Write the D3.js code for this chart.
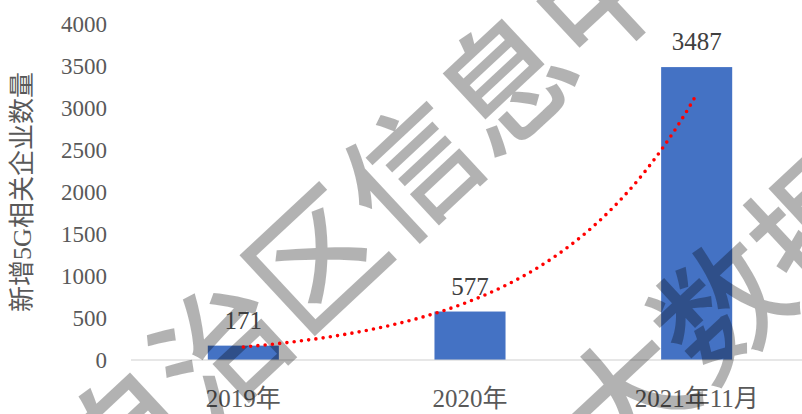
<!DOCTYPE html>
<html>
<head>
<meta charset="utf-8">
<script src="https://cdn.jsdelivr.net/npm/d3@7/dist/d3.min.js"></script>
<style>
  html, body { margin: 0; padding: 0; background: #fff; }
  svg { display: block; }
</style>
</head>
<body>
<svg id="chart" width="802" height="414"></svg>
<script>
// Newly added 5G-related enterprises per period
const categories = ["2019年", "2020年", "2021年11月"];
const values = [171, 577, 3487];
const yTicks = [0, 500, 1000, 1500, 2000, 2500, 3000, 3500, 4000];
const yTitle = "新增5G相关企业数量";
const watermarkLines = ["自治区信息中心", "大数据"];

const W = 802, H = 414;
const serif = "'Liberation Serif', 'Times New Roman', 'Noto Sans CJK SC', serif";
const svg = d3.select("#chart");

const gap = 2.19 / 3.19;
const x = d3.scaleBand().domain(categories).range([130, 810])
  .paddingInner(gap).paddingOuter(gap / 2);
const y = d3.scaleLinear().domain([0, 4000]).range([360, 24]);

// y tick labels (no axis line, no gridlines)
const yAxis = d3.axisLeft(y).tickValues(yTicks).tickFormat(d3.format("d"))
  .tickSize(0).tickPadding(0);
const gy = svg.append("g").attr("transform", "translate(107,0)").call(yAxis);
gy.select(".domain").remove();
gy.selectAll("text")
  .attr("font-family", serif).attr("font-size", 23)
  .attr("fill", "#595959").attr("dy", "0.34em");

// y title
svg.append("text")
  .attr("transform", "translate(22,192) rotate(-90)")
  .attr("text-anchor", "middle").attr("dy", "0.35em")
  .attr("font-family", serif).attr("font-size", 26).attr("fill", "#595959")
  .text(yTitle);

// bars
svg.append("g").selectAll("rect").data(values).join("rect")
  .attr("x", (d, i) => x(categories[i]))
  .attr("width", x.bandwidth())
  .attr("y", d => y(d))
  .attr("height", d => y(0) - y(d))
  .attr("fill", "#4472C4");

// category axis
const xAxis = d3.axisBottom(x).tickSize(0).tickPadding(0);
const gx = svg.append("g").attr("transform", `translate(0,${y(0)})`).call(xAxis);
gx.select(".domain").remove();
svg.append("line")
  .attr("x1", 131).attr("x2", W).attr("y1", y(0)).attr("y2", y(0))
  .attr("stroke", "#d0d0d0").attr("stroke-width", 1.2);
gx.selectAll("text")
  .attr("font-family", serif).attr("font-size", 25)
  .attr("fill", "#595959").attr("y", 47).attr("dy", 0);

// watermark
const wmDir = -43 * Math.PI / 180;
const wm = svg.append("g").attr("fill", "#000").attr("fill-opacity", 0.3)
  .attr("font-family", "'Noto Sans CJK SC', sans-serif")
  .attr("font-weight", 500).attr("font-size", 130);
const wmAnchors = [
  { cx: 310, cy: 253, idx: 2 },   // 区 centre
  { cx: 716, cy: 302, idx: 1 }    // 数 centre
];
watermarkLines.forEach((s, k) => {
  const a = wmAnchors[k];
  const off = (a.idx + 0.5) * 130;
  const sx = a.cx - off * Math.cos(wmDir), sy = a.cy - off * Math.sin(wmDir);
  wm.append("text")
    .attr("transform", `translate(${sx},${sy}) rotate(-43)`)
    .attr("dominant-baseline", "central")
    .text(s);
});

// exponential trendline fitted to the values (least squares on ln y)
const n = values.length;
const xs = values.map((d, i) => i + 1);
const ls = values.map(d => Math.log(d));
const mx = d3.mean(xs), ml = d3.mean(ls);
const b = d3.sum(xs, (v, i) => (v - mx) * (ls[i] - ml)) / d3.sum(xs, v => (v - mx) * (v - mx));
const a = ml - b * mx;
const center = i => x(categories[i]) + x.bandwidth() / 2;
const tx = t => center(0) + (t - 1) * x.step();
const ts = d3.range(1, n + 0.0001, 0.02);
svg.append("path")
  .attr("d", d3.line().x(t => tx(t)).y(t => y(Math.exp(a + b * t)))(ts))
  .attr("fill", "none").attr("stroke", "#FF0000")
  .attr("stroke-width", 3.6).attr("stroke-linecap", "round")
  .attr("stroke-dasharray", "0 7.3");

// data labels
svg.append("g").selectAll("text").data(values).join("text")
  .attr("x", (d, i) => center(i))
  .attr("y", d => y(d) - 17)
  .attr("text-anchor", "middle")
  .attr("font-family", serif).attr("font-size", 25).attr("fill", "#404040")
  .text(d => d);
</script>
</body>
</html>
